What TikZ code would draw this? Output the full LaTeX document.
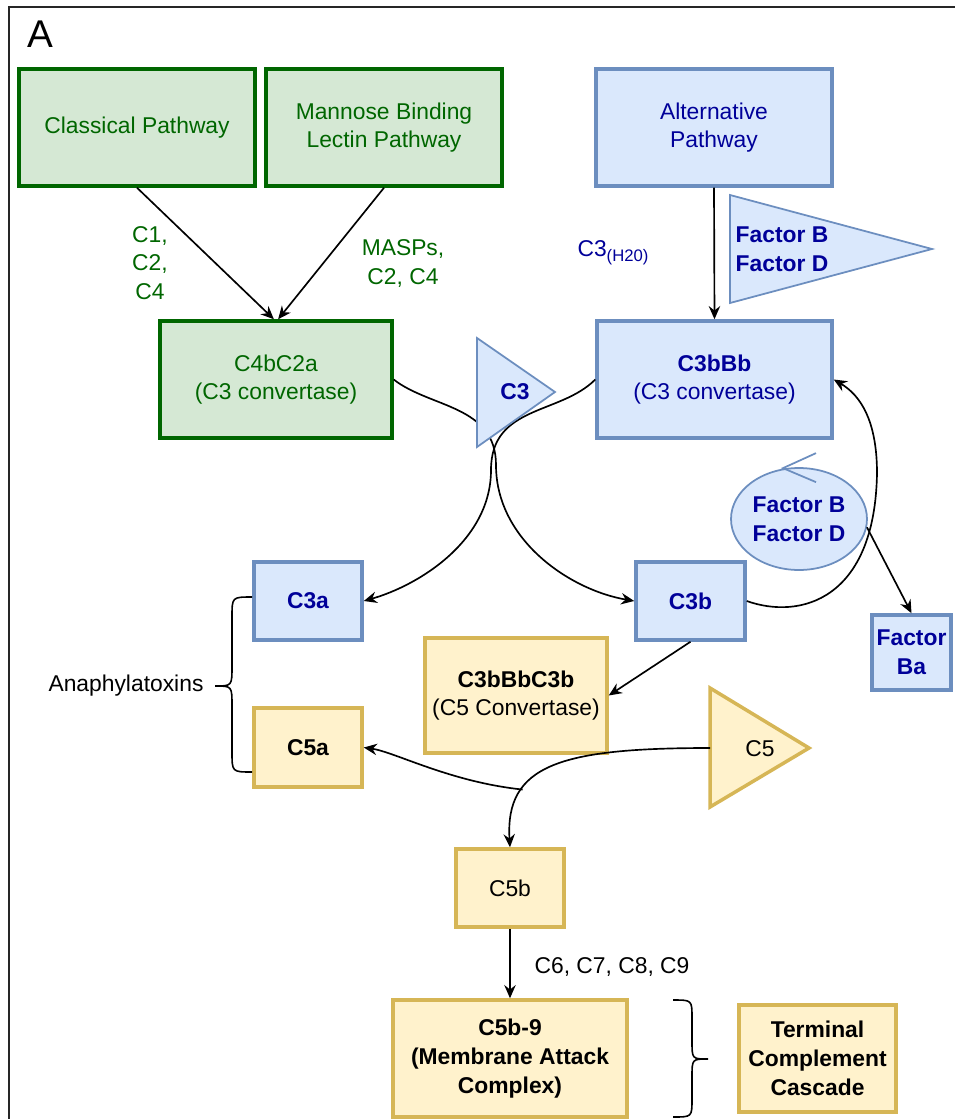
\documentclass[tikz,border=0pt]{standalone}
\usepackage{fontspec}
\setmainfont{Liberation Sans}
\usetikzlibrary{arrows.meta,shapes.geometric}
\definecolor{grfill}{HTML}{D5E8D4}
\definecolor{grline}{HTML}{006600}
\definecolor{grtext}{HTML}{006600}
\definecolor{blfill}{HTML}{DAE8FC}
\definecolor{blline}{HTML}{6C8EBF}
\definecolor{bltext}{HTML}{000099}
\definecolor{yefill}{HTML}{FFF2CC}
\definecolor{yeline}{HTML}{D6B656}
\newcommand{\figfont}{\fontsize{13}{16.4}\selectfont}
\begin{document}
\begin{tikzpicture}[x=0.02cm,y=-0.02cm,
	every node/.style={font=\figfont},
	boldtxt/.style={font=\figfont\bfseries},
	box/.style={draw,line width=2pt,align=center,inner sep=1pt},
	grbox/.style={box,fill=grfill,draw=grline,text=grtext,minimum width=4.72cm,minimum height=2.34cm},
	blbox/.style={box,fill=blfill,draw=blline,text=bltext},
	yebox/.style={box,fill=yefill,draw=yeline,text=black},
	tri/.style={fill=blfill,draw=blline,line width=1pt,line join=miter},
	arr/.style={-{Stealth[length=7.5pt,width=6.5pt,inset=2.5pt]},line width=0.95pt},
	brace/.style={line width=0.9pt}]
	\useasboundingbox (0,0) rectangle (955,1119);
	\draw[line width=0.9pt,draw=black!85] (9,1119) -- (9,7) -- (955,7);
	\node[font=\fontsize{22}{26}\selectfont] (lblA) at (40,34) {A};
	
	%pathways
	\node[grbox] (cp) at (137,127.5) {Classical Pathway};
	\node[grbox] (mbl) at (384,127.5) {Mannose Binding\\Lectin Pathway};
	\node[blbox,minimum width=4.72cm,minimum height=2.34cm] (alt) at (714,127.5) {Alternative\\Pathway};
	
	%C3 convertases
	\node[grbox,minimum width=4.64cm] (c4b) at (276,379.5) {C4bC2a\\(C3 convertase)};
	\node[blbox,minimum width=4.7cm,minimum height=2.34cm] (c3bbb) at (714.5,379.5) {\textbf{C3bBb}\\(C3 convertase)};
	\draw[arr] (cp.south) -- (c4b.92);
	\draw[arr] (mbl.south) -- (c4b.88);
	\draw[arr] (alt.south) -- (c3bbb.north);
	\node[text=grtext,align=center] (lblcp) at (150,263) {C1,\\C2,\\C4};
	\node[text=grtext,align=center] (lblmbl) at (403,263.5) {MASPs,\\C2, C4};
	\node[text=bltext] (lblh2o) at (613,253) {C3\raisebox{-0.45ex}{\fontsize{9.5}{11}\selectfont(H20)}};
	\draw[tri] (730,195) -- (932,249) -- (730,303) -- cycle;
	\node[text=bltext,boldtxt,align=left] (fbtri) at (782,249) {Factor B\\Factor D};
	
	%C3 split
	\node[blbox,boldtxt,minimum width=2.16cm,minimum height=1.56cm] (c3a) at (308,601) {C3a};
	\node[blbox,boldtxt,minimum width=2.18cm,minimum height=1.56cm] (c3b) at (690.5,601) {C3b};
	\draw[arr] (c4b.east) .. controls (430,408) and (496,405) .. (496,465) .. controls (496,540) and (570,590) .. (c3b.west);
	\draw[arr] (c3bbb.west) .. controls (560,415) and (491,405) .. (491,470) .. controls (491,540) and (420,585) .. (c3a.east);
	\draw[tri] (477,338) -- (555,392) -- (477,447) -- cycle;
	\node[text=bltext,boldtxt] (c3) at (515,392) {C3};
	
	%factor B and D loop
	\node[ellipse,draw=blline,fill=blfill,line width=1pt,text=bltext,boldtxt,align=center,
		minimum width=2.72cm,minimum height=2.04cm,inner sep=0pt] (fbd) at (799,519) {Factor B\\Factor D};
	\draw[draw=blline,line width=1pt] ([shift={(17,-14)}]fbd.north) -- ([shift={(-16,1)}]fbd.north) -- ([shift={(17,15)}]fbd.north);
	\node[blbox,boldtxt,minimum width=1.58cm,minimum height=1.5cm] (fba) at (911.5,652.5) {Factor\\Ba};
	\draw[arr] (fbd.-7) -- (fba.north);
	\draw[arr] (c3b.east) .. controls (800,620) and (875,600) .. (877,473) .. controls (877,420) and (860,395) .. (c3bbb.east);
	
	%C5 convertase and split
	\node[yebox,minimum width=3.64cm,minimum height=2.3cm] (c5conv) at (516,695.5) {\textbf{C3bBbC3b}\\(C5 Convertase)};
	\draw[arr] (c3b.south) -- (c5conv.east);
	\node[yebox,boldtxt,minimum width=2.16cm,minimum height=1.58cm] (c5a) at (308,747.5) {C5a};
	\node[yebox,minimum width=2.16cm,minimum height=1.56cm] (c5b) at (510,888) {C5b};
	\draw[fill=yefill,draw=yeline,line width=2pt,line join=miter] (710,688) -- (809,748) -- (710,807) -- cycle;
	\coordinate (c5base) at (710,748);
	\node (c5) at (760,749) {C5};
	\draw[arr] (c5base) .. controls (560,748) and (505,765) .. (c5b.north) coordinate[pos=0.7] (c5split);
	\draw[arr] (c5split) .. controls (450,782) and (395,752) .. (c5a.east);
	
	%anaphylatoxins
	\node (lblana) at (126,686) {Anaphylatoxins};
	\draw[brace] (252,597) .. controls (232,597) .. (232,617) -- (232,666) .. controls (232,686) .. (215,686)
		.. controls (232,686) .. (232,706) -- (232,752) .. controls (232,772) .. (252,772);
	
	%terminal cascade
	\node[yebox,boldtxt,minimum width=4.68cm,minimum height=2.34cm] (mac) at (510,1058.5) {C5b-9\\(Membrane Attack\\Complex)};
	\node[yebox,boldtxt,minimum width=3.14cm,minimum height=2.14cm] (tcc) at (817.5,1058.5) {Terminal\\Complement\\Cascade};
	\draw[arr] (c5b.south) -- (mac.north);
	\node (lblc6) at (612,967) {C6, C7, C8, C9};
	\draw[brace] (673,1000) .. controls (692,1000) .. (692,1018) -- (692,1041) .. controls (692,1059) .. (708,1059)
		.. controls (692,1059) .. (692,1077) -- (692,1099) .. controls (692,1117) .. (673,1117);
\end{tikzpicture}
\end{document}
